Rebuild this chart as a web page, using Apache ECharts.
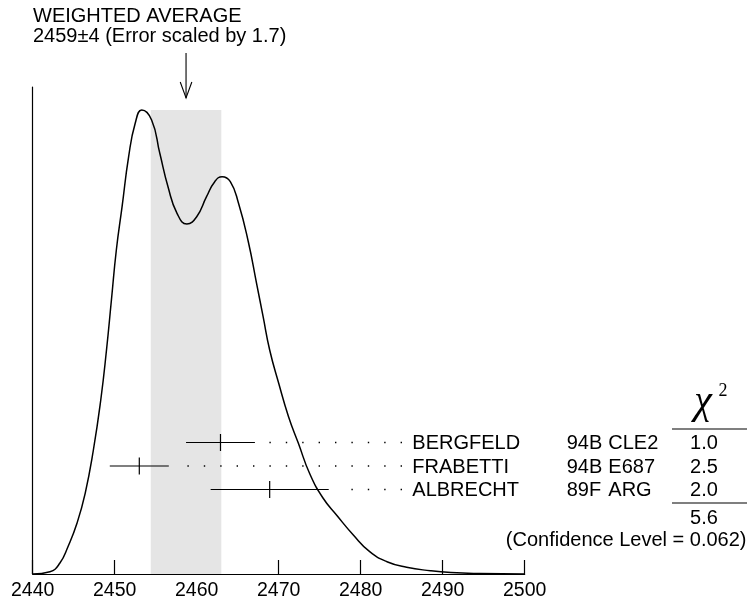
<!DOCTYPE html>
<html>
<head>
<meta charset="utf-8">
<script src="https://cdn.jsdelivr.net/npm/echarts@6/dist/echarts.min.js"></script>
<style>
html,body{margin:0;padding:0;background:#fff;}
#chart{width:747px;height:605px;}
</style>
</head>
<body>
<div id="chart"></div>
<script>
// ---------- data ----------
const titleLine1 = 'WEIGHTED AVERAGE';
const titleLine2 = '2459\u00b14 (Error scaled by 1.7)';
const avgValue = 2458.7;
const avgError = 4.3;

const names  = ['BERGFELD', 'FRABETTI', 'ALBRECHT'];
const years  = ['94B', '94B', '89F'];
const techs  = ['CLE2', 'E687', 'ARG'];
const chi2   = ['1.0', '2.5', '2.0'];
const values = [2462.9, 2453.0, 2468.9];
const errors = [4.2, 3.6, 7.2];
const chi2Total = '5.6';
const confidenceText = '(Confidence Level = 0.062)';

const xTicks = [2440, 2450, 2460, 2470, 2480, 2490, 2500];

// ideogram curve
const curveX = [2440.0, 2442.1, 2443.3, 2444.3, 2445.4, 2446.4, 2447.4, 2448.3, 2449.0, 2449.6,
                2450.2, 2450.9, 2451.7, 2452.5, 2453.3, 2454.5, 2455.5, 2456.5, 2457.6, 2458.8,
                2460.0, 2461.2, 2462.2, 2463.1, 2464.1, 2465.1, 2466.3, 2467.3, 2468.1,
                2468.9, 2470.0, 2471.2, 2472.4, 2473.8, 2475.4, 2477.1, 2479.1, 2481.1, 2483.2,
                2485.6, 2488.5, 2491.0, 2494.5, 2500.0];
const curveY = [0, 2.3, 10.7, 27.3, 50.7, 80.7, 124, 174, 224, 274,
                324, 367.3, 417.3, 450.7, 464, 454, 420.7, 387.3, 360.7, 350,
                357.3, 377.3, 392.3, 397.3, 392.3, 370.7, 332, 290.7, 257.3,
                224, 190.7, 157.3, 130.7, 100, 76, 58.5, 39, 22.3, 12.3,
                6.7, 3.3, 1.5, 0.5, 0];

// ---------- layout ----------
const FONT = 'Liberation Sans, Arial, Helvetica, sans-serif';
const SERIF = 'Liberation Serif, Times New Roman, serif';
const ROW0 = 442.5, ROW_STEP = 23.5;      // pixel rows of measurements
const NAME_X = 412.3, YEAR_X = 566.7, TECH_X = 608.3, CHI_X = 704;
const DOT_END_X = 402, DOT_GAP = 10;
const TEXT_DY = 1;

const chart = echarts.init(document.getElementById('chart'));

const bandTop = Math.max.apply(null, curveY);

const graphics = [];
function txt(x, y, text, align, font) {
  graphics.push({
    type: 'text', x: x, y: y, silent: true,
    style: { text: text, fill: '#000', align: align || 'left', verticalAlign: 'middle',
             font: font || ('20px ' + FONT) }
  });
}
txt(33, 16, titleLine1);
txt(33, 36.5, titleLine2);
names.forEach(function (n, i) {
  const y = ROW0 + i * ROW_STEP + TEXT_DY;
  txt(NAME_X, y, n);
  txt(YEAR_X, y, years[i]);
  txt(TECH_X, y, techs[i]);
  txt(CHI_X, y, chi2[i], 'center');
});
txt(CHI_X, 518.5, chi2Total, 'center');
txt(746.5, 540, confidenceText, 'right');
txt(703, 402, '\u03c7', 'center', 'italic 40px ' + SERIF);
txt(723, 391, '2', 'center', '18px ' + SERIF);
[429, 503].forEach(function (y) {
  graphics.push({ type: 'line', silent: true,
    shape: { x1: 672, y1: y, x2: 747, y2: y },
    style: { stroke: '#000', lineWidth: 1.2 } });
});

const option = {
  animation: false,
  backgroundColor: '#fff',
  grid: { left: 32.7, right: 222.3, top: 87, bottom: 31, containLabel: false },
  xAxis: {
    type: 'value', min: xTicks[0], max: xTicks[xTicks.length - 1], interval: xTicks[1] - xTicks[0],
    axisLine: { show: true, lineStyle: { color: '#000', width: 1.2 } },
    axisTick: { show: true, inside: true, length: 14, lineStyle: { color: '#000', width: 1.2 } },
    axisLabel: { color: '#000', fontSize: 19.5, fontFamily: FONT, margin: 7,
                 formatter: function (v) { return String(v); } },
    splitLine: { show: false }
  },
  yAxis: {
    type: 'value', min: 0, max: 487,
    axisLine: { show: true, onZero: false, lineStyle: { color: '#000', width: 1.2 } },
    axisTick: { show: false }, axisLabel: { show: false }, splitLine: { show: false }
  },
  graphic: graphics,
  series: [
    {
      type: 'custom', z: 1, silent: true,
      data: [[avgValue - avgError, avgValue + avgError, bandTop]],
      renderItem: function (params, api) {
        const p1 = api.coord([api.value(0), 0]);
        const p2 = api.coord([api.value(1), api.value(2)]);
        return { type: 'rect',
          shape: { x: p1[0], y: p2[1], width: p2[0] - p1[0], height: p1[1] - p2[1] },
          style: { fill: '#e5e5e5' } };
      }
    },
    {
      type: 'line', z: 3, silent: true, showSymbol: false, smooth: 0.5,
      data: curveX.map(function (x, i) { return [x, curveY[i]]; }),
      lineStyle: { color: '#000', width: 1.5 }
    },
    {
      type: 'custom', z: 4, silent: true,
      data: values.map(function (v, i) { return [v, errors[i], i]; }),
      renderItem: function (params, api) {
        const v = api.value(0), e = api.value(1), i = api.value(2);
        const y = ROW0 + i * ROW_STEP;
        const xl = api.coord([v - e, 0])[0];
        const xc = api.coord([v, 0])[0];
        const xr = api.coord([v + e, 0])[0];
        return { type: 'group', children: [
          { type: 'line', shape: { x1: xl, y1: y, x2: xr, y2: y },
            style: { stroke: '#000', lineWidth: 1.2 } },
          { type: 'line', shape: { x1: xc, y1: y - 8.5, x2: xc, y2: y + 8.5 },
            style: { stroke: '#000', lineWidth: 1.2 } },
          { type: 'line', shape: { x1: DOT_END_X, y1: y, x2: xr + DOT_GAP, y2: y },
            style: { stroke: '#000', lineWidth: 1.3, lineDash: [1.4, 15] } }
        ] };
      }
    },
    {
      type: 'custom', z: 4, silent: true, clip: false,
      data: [[avgValue]],
      renderItem: function (params, api) {
        const x = api.coord([api.value(0), 0])[0];
        return { type: 'group', children: [
          { type: 'line', shape: { x1: x, y1: 53, x2: x, y2: 98 },
            style: { stroke: '#000', lineWidth: 1.1 } },
          { type: 'polyline', shape: { points: [[x - 5.8, 82], [x, 98], [x + 5.8, 82]] },
            style: { stroke: '#000', lineWidth: 1.1, fill: null } }
        ] };
      }
    }
  ]
};
chart.setOption(option);
</script>
</body>
</html>
